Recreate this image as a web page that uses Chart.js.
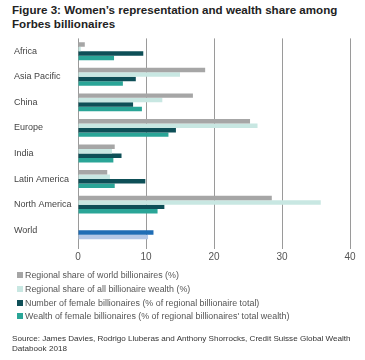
<!DOCTYPE html>
<html>
<head>
<meta charset="utf-8">
<script src="https://cdn.jsdelivr.net/npm/chart.js@4"></script>
<style>
  body { margin: 0; background: #fff; font-family: "Liberation Sans", Arial, sans-serif; }
  #wrap { position: relative; width: 365px; height: 360px; overflow: hidden; }
  #title { position: absolute; left: 12px; top: 3px; font-weight: bold; font-size: 11.6px; line-height: 14px; color: #222; white-space: nowrap; }
  #chartBox { position: absolute; left: 0; top: 30px; width: 365px; height: 240px; }
  #legend { position: absolute; left: 17px; top: 269px; font-size: 8.9px; color: #555; }
  #legend div { height: 13.8px; line-height: 13.8px; white-space: nowrap; }
  #legend span { display: inline-block; width: 6px; height: 6px; margin-right: 2px; vertical-align: 0px; }
  #source { position: absolute; left: 12px; top: 334px; font-size: 8.1px; line-height: 10px; color: #333; white-space: nowrap; }
</style>
</head>
<body>
<div id="wrap">
  <div id="title">Figure 3: Women’s representation and wealth share among<br>Forbes billionaires</div>
  <div id="chartBox"><canvas id="chart"></canvas></div>
  <div id="legend"></div>
  <div id="source">Source: James Davies, Rodrigo Lluberas and Anthony Shorrocks, Credit Suisse Global Wealth<br>Databook 2018</div>
</div>
<script>
const regions = ["Africa", "Asia Pacific", "China", "Europe", "India", "Latin America", "North America", "World"];
const shareOfBillionaires = [1.0, 18.7, 16.9, 25.3, 5.4, 4.3, 28.5, null];
const shareOfWealth = [0.4, 15.0, 12.4, 26.4, 5.0, 4.7, 35.7, null];
const femaleCount = [9.6, 8.5, 8.1, 14.4, 6.4, 9.9, 12.7, 11.1];
const femaleWealth = [5.3, 6.6, 9.4, 13.3, 5.2, 5.4, 11.7, 10.3];
const xTicks = [0, 10, 20, 30, 40];

const seriesNames = [
  "Regional share of world billionaires (%)",
  "Regional share of all billionaire wealth (%)",
  "Number of female billionaires (% of regional billionaire total)",
  "Wealth of female billionaires (% of regional billionaires' total wealth)"
];
const seriesColors = ["#a6a6a6", "#c8e7e2", "#0e4f57", "#2aa597"];
const worldColors = [null, null, "#1f6db5", "#b3c7e6"];

function barColors(i) {
  return regions.map(r => (r === "World" && worldColors[i]) ? worldColors[i] : seriesColors[i]);
}

const allSeries = [shareOfBillionaires, shareOfWealth, femaleCount, femaleWealth];

new Chart(document.getElementById("chart"), {
  type: "bar",
  data: {
    labels: regions,
    datasets: allSeries.map((vals, i) => ({
      label: seriesNames[i],
      data: vals,
      backgroundColor: barColors(i),
      borderWidth: 0,
      barPercentage: 1.0,
      categoryPercentage: 0.7
    }))
  },
  options: {
    indexAxis: "y",
    responsive: true,
    maintainAspectRatio: false,
    animation: false,
    layout: { padding: { left: 14, right: 15, top: 6, bottom: 0 } },
    plugins: { legend: { display: false }, tooltip: { enabled: false } },
    scales: {
      x: {
        min: 0,
        max: 40,
        afterBuildTicks: axis => { axis.ticks = xTicks.map(v => ({ value: v })); },
        afterFit: axis => { axis.height = 27; },
        grid: { color: "#9a9a9a", lineWidth: 1, tickLength: 6, drawTicks: true },
        border: { display: false },
        ticks: { color: "#555", font: { family: "Liberation Sans", size: 10 }, padding: 2 }
      },
      y: {
        afterFit: axis => { axis.width = 64; },
        grid: { display: false },
        border: { display: false },
        ticks: { crossAlign: "far", color: "#444", font: { family: "Liberation Sans", size: 9 } }
      }
    }
  }
});

const legend = document.getElementById("legend");
seriesNames.forEach((name, i) => {
  const row = document.createElement("div");
  row.innerHTML = '<span style="background:' + seriesColors[i] + '"></span>' + name;
  legend.appendChild(row);
});
</script>
</body>
</html>
